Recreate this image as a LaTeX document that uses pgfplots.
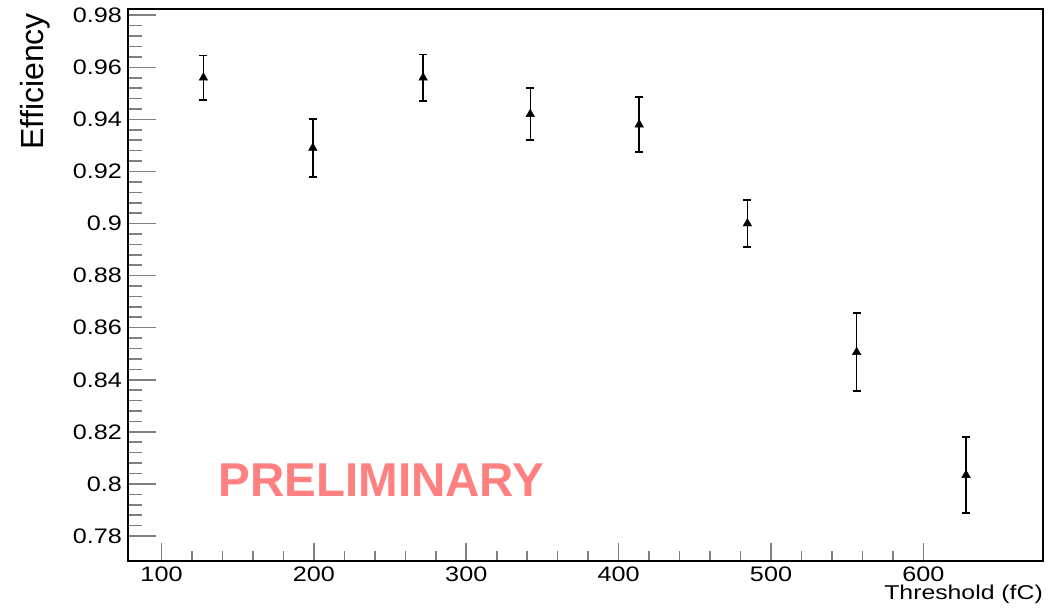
\documentclass[border=0pt]{standalone}
\usepackage{fontspec}
\setmainfont{Liberation Sans}
\newfontfamily\tickfont[FakeStretch=1.2]{Liberation Sans}
\newfontfamily\labfont[FakeStretch=1.24]{Liberation Sans}
\usepackage{pgfplots}
\pgfplotsset{compat=1.18}

\definecolor{prelim}{RGB}{255,128,128}

\pgfplotsset{
  rootframe/.style={
    at={(0,0)}, anchor=south west,
    scale only axis, width=915pt, height=552pt,
    xmin=78, xmax=678.5, ymin=0.7704, ymax=0.9824,
    minor tick num=4,
    tick align=inside,
    xtick pos=bottom, ytick pos=left,
    tick style={line width=1.6pt},
    axis line style={line width=1.6pt},
    /pgf/number format/assume math mode=true,
    /pgf/number format/fixed, /pgf/number format/precision=2,
    scaled ticks=false,
    ticklabel style={font=\tickfont\fontsize{21}{21}\selectfont},
    xticklabel style={anchor=base, inner sep=0pt, yshift=-20pt},
    yticklabel style={anchor=east, inner sep=0pt, xshift=-6pt},
    clip=false,
  },
}

\begin{document}
\begin{tikzpicture}
% invisible frame fixing the page size (1060 x 610)
\path (-128pt,-49pt) rectangle (932pt,561pt);
% x ticks
\begin{axis}[rootframe,
  xtick={100,200,300,400,500,600}, ytick=\empty,
  major tick length=18pt, minor tick length=10pt]
\end{axis}
% y ticks, data and labels
\begin{axis}[rootframe,
  xtick=\empty,
  ytick={0.78,0.80,0.82,0.84,0.86,0.88,0.90,0.92,0.94,0.96,0.98},
  major tick length=28pt, minor tick length=14pt]
\addplot[
  only marks, mark=triangle*, mark size=5pt, black,
  error bars/.cd, y dir=both, y explicit,
  error bar style={line width=1.5pt},
  error mark options={rotate=90, mark size=4pt, line width=1.5pt},
] table[x=x, y=y, y error=e] {
x      y       e
127.5  0.956   0.0085
199.3  0.929   0.0111
271.7  0.956   0.0089
342.0  0.942   0.0100
413.5  0.938   0.0106
484.5  0.900   0.0090
556.2  0.8506  0.0150
628.0  0.8034  0.0146
};
\node[anchor=base west, inner sep=0pt, text=prelim,
  font=\fontsize{47.5}{47.5}\selectfont\bfseries] at (axis cs:137.4,0.795) {PRELIMINARY};
\node[rotate=90, anchor=north east, inner sep=0pt,
  font=\fontsize{32}{32}\selectfont] at ([xshift=-108pt, yshift=-4pt]rel axis cs:0,1) {Efficiency};
\node[anchor=base east, inner sep=0pt,
  font=\labfont\fontsize{20}{20}\selectfont] at ([yshift=-38.3pt]rel axis cs:1,0) {Threshold (fC)};
\end{axis}
\end{tikzpicture}
\end{document}
